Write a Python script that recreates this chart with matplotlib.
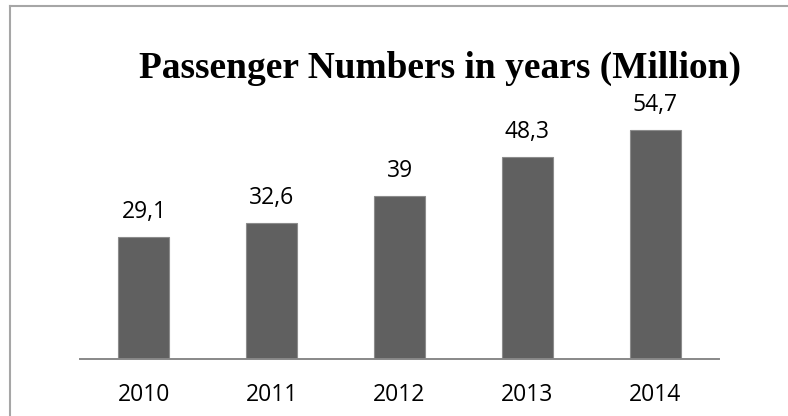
import matplotlib
matplotlib.use("Agg")
import matplotlib.pyplot as plt
from matplotlib.lines import Line2D

years = ["2010", "2011", "2012", "2013", "2014"]
passengers = [29.1, 32.6, 39.0, 48.3, 54.7]
value_labels = ["29,1", "32,6", "39", "48,3", "54,7"]
title = "Passenger Numbers in years (Million)"

W, H = 788, 416
fig = plt.figure(figsize=(W / 100, H / 100), dpi=100)
fig.patch.set_facecolor("white")

# axes in pixel coordinates: left 80, right 719, bottom 359
left, right, bottom, top = 80, 719, 359, 108
ax = fig.add_axes([left / W, 1 - bottom / H, (right - left) / W, (bottom - top) / H])
ymax = (bottom - top) / 4.185
ax.set_ylim(0, ymax)
ax.set_xlim(-0.5, len(years) - 0.5)

x = list(range(len(years)))
bars = ax.bar(x, passengers, width=51 / 128, color="#606060", edgecolor="#8c8c8c", linewidth=0.8, zorder=2)

lab_font = "Open Sans"
for xi, v, lab in zip(x, passengers, value_labels):
    ax.annotate(lab, xy=(xi, v), xytext=(0, 19 * 0.72), textcoords="offset points",
                ha="center", va="baseline", fontsize=16.5, family=lab_font, color="black")

ax.set_xticks(x)
ax.set_xticklabels(years, fontsize=16.5, family=lab_font, color="black")
ax.tick_params(axis="x", length=0, pad=17.5)
ax.set_yticks([])
for s in ["top", "right", "left"]:
    ax.spines[s].set_visible(False)
ax.spines["bottom"].set_color("#888888")
ax.spines["bottom"].set_linewidth(1.4)
ax.set_facecolor("none")

fig.text(440 / W, 1 - 78 / H, title, ha="center", va="baseline",
         fontsize=26.9, fontweight="bold", family="Liberation Serif", color="black")

# outer border (left and top visible)
fig.add_artist(Line2D([10 / W, 10 / W], [0, 1 - 6 / H], transform=fig.transFigure,
                      color="#a6a6a6", linewidth=1.5))
fig.add_artist(Line2D([10 / W, 1], [1 - 6 / H, 1 - 6 / H], transform=fig.transFigure,
                      color="#a6a6a6", linewidth=1.5))

fig.savefig("out.png", dpi=100, facecolor="white")
